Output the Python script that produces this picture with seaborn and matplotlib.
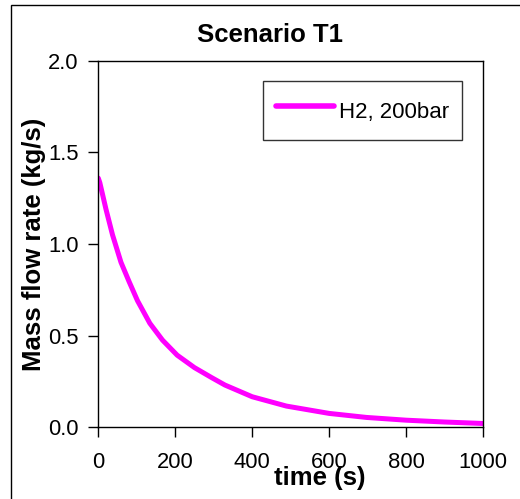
import numpy as np
import pandas as pd
import matplotlib
matplotlib.use("Agg")
import matplotlib.pyplot as plt
import seaborn as sns
from matplotlib.patches import Rectangle

# values
time_s = [0, 4, 20, 37, 59, 80, 102, 134, 167, 205, 250, 295, 329,
          400, 489, 600, 697, 800, 900, 1000]
mass_flow = [1.36, 1.335, 1.19, 1.05, 0.90, 0.795, 0.69, 0.567, 0.475, 0.393, 0.325,
             0.27, 0.23, 0.166, 0.115, 0.075, 0.053, 0.038, 0.028, 0.02]
series_name = "H2, 200bar"

df = pd.DataFrame({"time": time_s, "flow": mass_flow, "series": series_name})

sns.set_style("ticks")
plt.rcParams["font.family"] = ["Liberation Sans", "DejaVu Sans"]
plt.rcParams["text.color"] = "black"

fig = plt.figure(figsize=(5.2, 4.99), dpi=100)
ax = fig.add_axes([0.189, 0.144, 0.740, 0.734])

sns.lineplot(data=df, x="time", y="flow", hue="series", palette=["#FF00FF"],
             linewidth=3.6, ax=ax)
ax.get_lines()[0].set_solid_joinstyle("round")

ax.set_xlim(0, 1000)
ax.set_ylim(0, 2.0)
ax.set_xticks([0, 200, 400, 600, 800, 1000])
ax.set_yticks([0.0, 0.5, 1.0, 1.5, 2.0])
ax.set_yticklabels(["0.0", "0.5", "1.0", "1.5", "2.0"])
ax.tick_params(axis="both", direction="out", length=7, width=1, labelsize=15.8,
               colors="black", labelcolor="black")
ax.tick_params(axis="x", pad=11)
ax.tick_params(axis="y", pad=7)
for s in ax.spines.values():
    s.set_color("black")
    s.set_linewidth(1)

ax.set_xlabel("time (s)", fontsize=18.5, fontweight="bold", color="black")
ax.xaxis.set_label_coords(0.575, -0.105)
ax.set_ylabel("Mass flow rate (kg/s)", fontsize=18.5, fontweight="bold", color="black")
ax.yaxis.set_label_coords(-0.135, 0.5)

fig.text(0.519, 1 - 41.7 / 499, "Scenario T1", ha="center", va="baseline",
         fontsize=18.5, fontweight="bold", color="black")

leg = ax.legend(loc="upper right", bbox_to_anchor=(462 / 520, 1 - 81 / 499),
                bbox_transform=fig.transFigure, fontsize=16, frameon=True,
                fancybox=False, handlelength=2.6, handleheight=1.85, handletextpad=0.2,
                borderpad=0.6, borderaxespad=0)
leg.get_frame().set_edgecolor("black")
leg.get_frame().set_linewidth(1)
for t in leg.get_texts():
    t.set_color("black")
for line in leg.get_lines():
    line.set_linewidth(4)

# outer frame around the chart
fig.patches.append(Rectangle((11 / 520, -0.1), 1.2, 1.1 - 5 / 499, transform=fig.transFigure,
                             fill=False, edgecolor="black", linewidth=1))

fig.savefig("out.png", dpi=100)
